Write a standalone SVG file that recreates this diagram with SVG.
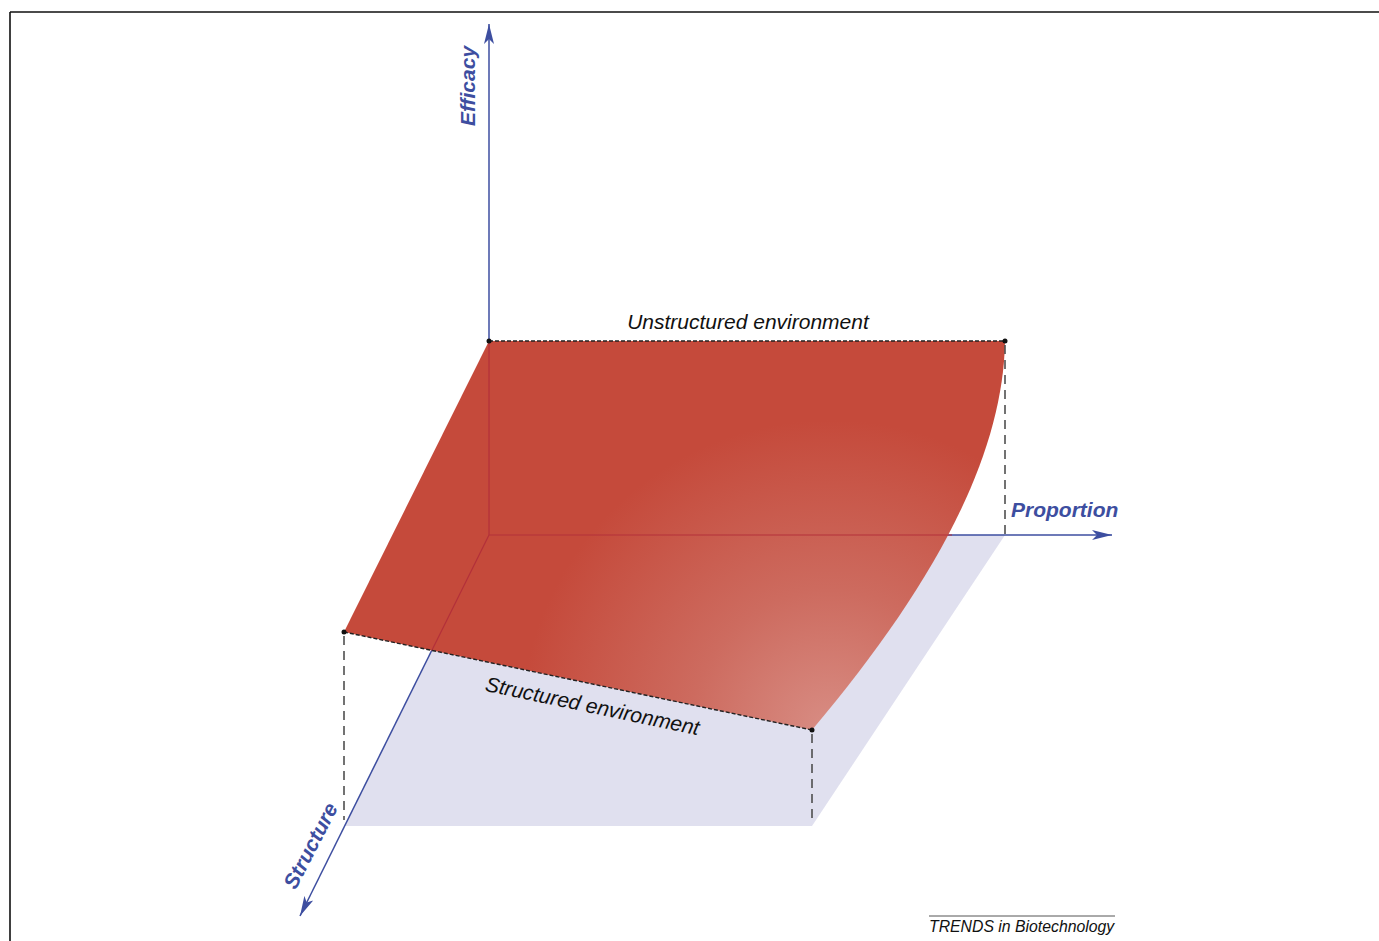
<svg xmlns="http://www.w3.org/2000/svg" width="1379" height="941" viewBox="0 0 1379 941">
<style>
.axis{stroke:#3d4ea0;stroke-width:1.5;fill:none}
.hid{stroke:#b3303a;stroke-width:1.2;fill:none}
.dash{stroke:#222;stroke-width:1.4;fill:none;stroke-dasharray:4 2}
.vdash{stroke:#444;stroke-width:1.5;fill:none;stroke-dasharray:9 6}
.dot{fill:#111}
.alabel{font-family:"Liberation Sans",Arial,sans-serif;font-weight:bold;font-style:italic;fill:#3d4ea0;font-size:21px}
.elabel{font-family:"Liberation Sans",Arial,sans-serif;font-style:italic;fill:#111;font-size:21px}
</style>
<defs>
<marker id="arr" viewBox="0 0 20 10" refX="20" refY="5" markerWidth="20" markerHeight="10" markerUnits="userSpaceOnUse" orient="auto">
<path d="M0,0 L20,5 L0,10 L5,5 Z" fill="#3d4ea0"/>
</marker>
<radialGradient id="red" gradientUnits="userSpaceOnUse" cx="830" cy="730" r="310">
<stop offset="0" stop-color="#d88d84"/>
<stop offset="0.45" stop-color="#cd6b5f"/>
<stop offset="1" stop-color="#c54a3b"/>
</radialGradient>
</defs>
<rect x="0" y="0" width="1379" height="941" fill="#fff"/>
<g id="frame">
<path d="M10,12 H1379 M10,12 V941" stroke="#111" stroke-width="1.6" fill="none"/>
</g>
<g id="floor">
<path d="M489,535 L1005,535 L812,826 L344,826 Z" fill="#e0e0ef"/>
</g>
<g id="connectors">
<line class="axis" x1="489" y1="535" x2="489" y2="24" marker-end="url(#arr)"/>
<line class="axis" x1="489" y1="535" x2="1112" y2="535" marker-end="url(#arr)"/>
<line class="axis" x1="489" y1="535" x2="300" y2="916" marker-end="url(#arr)"/>
</g>
<g id="surface">
<path d="M489,341 L1005,341 C1003,460 930,590 812,730 L344,632 Z" fill="url(#red)"/>
<path class="hid" d="M489,341 V535 H952 M489,535 L431.8,650.4"/>
</g>
<g id="edges">
<line class="dash" x1="489" y1="341" x2="1005" y2="341"/>
<line class="dash" x1="344" y1="632" x2="812" y2="730"/>
<line class="vdash" x1="1005" y1="345" x2="1005" y2="535"/>
<line class="vdash" x1="344" y1="636" x2="344" y2="820"/>
<line class="vdash" x1="812" y1="734" x2="812" y2="820"/>
<circle class="dot" cx="489" cy="341" r="2.5"/>
<circle class="dot" cx="1005" cy="341" r="2.5"/>
<circle class="dot" cx="344" cy="632" r="2.5"/>
<circle class="dot" cx="812" cy="730" r="2.5"/>
</g>
<g id="label-efficacy">
<text class="alabel" transform="translate(475,86) rotate(-90)" text-anchor="middle">Efficacy</text>
</g>
<g id="label-proportion">
<text class="alabel" x="1011" y="517">Proportion</text>
</g>
<g id="label-structure">
<text class="alabel" transform="translate(317,849) rotate(-62.6)" text-anchor="middle">Structure</text>
</g>
<g id="label-unstructured">
<text class="elabel" x="748" y="329" text-anchor="middle">Unstructured environment</text>
</g>
<g id="label-structured">
<text class="elabel" transform="translate(591,713) rotate(11.8)" text-anchor="middle">Structured environment</text>
</g>
<g id="credit">
<line x1="929" y1="916" x2="1115" y2="916" stroke="#555" stroke-width="1"/>
<text x="929" y="932" font-family="Liberation Sans, Arial, sans-serif" font-style="italic" font-size="15.8" fill="#111">TRENDS in Biotechnology</text>
</g>
</svg>
